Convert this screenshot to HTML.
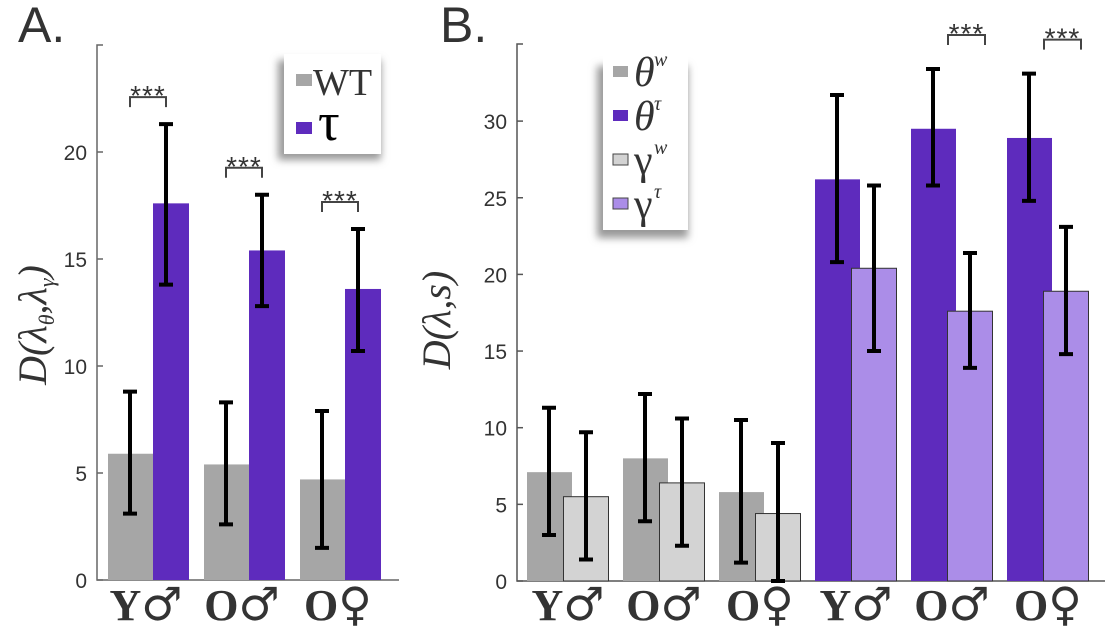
<!DOCTYPE html>
<html><head><meta charset="utf-8">
<style>
body{margin:0;background:#fff;width:1110px;height:634px;overflow:hidden}
svg{display:block}
.tick{font-family:"Liberation Sans",sans-serif;font-size:21px;fill:#333}
</style></head><body>
<svg id="chart" width="1110" height="634" xmlns="http://www.w3.org/2000/svg">
<defs>
<filter id="sh" x="-30%" y="-30%" width="160%" height="160%"><feGaussianBlur stdDeviation="4"/></filter>
</defs>
<text x="18" y="42" font-family="Liberation Sans,sans-serif" font-size="50" fill="#333">A.</text>
<text x="440" y="42" font-family="Liberation Sans,sans-serif" font-size="50" fill="#333">B.</text>
<g id="ga"></g>
<g id="gb"></g>
</svg>
<script>
// Panel A data
const aCategories=["Y♂","O♂","O♀"];
const aWT=[5.9,5.4,4.7];
const aWTlo=[3.1,2.6,1.5];
const aWThi=[8.8,8.3,7.9];
const aTau=[17.6,15.4,13.6];
const aTaulo=[13.8,12.8,10.7];
const aTauhi=[21.3,18.0,16.4];
const aTicks=[0,5,10,15,20];
// Panel B data
const bCategories=["Y♂","O♂","O♀","Y♂","O♂","O♀"];
const bTheta=[7.1,8.0,5.8,26.2,29.5,28.9];
const bThetaLo=[3.0,3.9,1.2,20.8,25.8,24.8];
const bThetaHi=[11.3,12.2,10.5,31.7,33.4,33.1];
const bGamma=[5.5,6.4,4.4,20.4,17.6,18.9];
const bGammaLo=[1.4,2.3,0,15.0,13.9,14.8];
const bGammaHi=[9.7,10.6,9.0,25.8,21.4,23.1];
const bTicks=[0,5,10,15,20,25,30];
const bSig=[false,false,false,false,true,true];

const NS="http://www.w3.org/2000/svg";
function mk(p,t,at){const e=document.createElementNS(NS,t);for(const k in at)e.setAttribute(k,at[k]);p.appendChild(e);return e;}

function errbar(g,x,ylo,yhi){
  const e=mk(g,'path',{d:`M${x},${yhi}V${ylo}M${x-7},${yhi}H${x+7}M${x-7},${ylo}H${x+7}`,stroke:'#000','stroke-width':4,fill:'none'});
  
  
}
function sig(g,x1,x2,y){
  const p=mk(g,'path',{d:`M${x1},${y+10}V${y}H${x2}V${y+10}`,stroke:'#444','stroke-width':2,fill:'none'});
  
  
  const t=mk(g,'text',{x:(x1+x2)/2,y:y+8,'text-anchor':'middle','font-family':'Liberation Sans,sans-serif','font-size':28,fill:'#333','letter-spacing':'1'});
  t.textContent='***';
  
  
}
function xlabel(g,cx,lab){
  const t=mk(g,'text',{x:cx,y:620,'text-anchor':'middle','font-size':44,fill:'#333'});
  const a=mk(t,'tspan',{'font-family':'Liberation Serif,serif','font-weight':'bold'});a.textContent=lab[0];
  const b=mk(t,'tspan',{'font-family':'DejaVu Sans,sans-serif','font-weight':'normal','font-size':46});b.textContent=lab[1];
  
  
}

// ---- Panel A
(function(){
  const g=document.getElementById('ga');
  const x0=97,y0=580,ppu=21.4;
  const Y=v=>y0-v*ppu;
  mk(g,'path',{d:`M${x0+6},${Y(25)}H${x0}V${y0}H399`,stroke:'#666','stroke-width':1.5,fill:'none'});
  aTicks.forEach(v=>{
    mk(g,'line',{x1:x0,x2:x0+6,y1:Y(v),y2:Y(v),stroke:'#666','stroke-width':1.5});
    const t=mk(g,'text',{x:x0-10,y:Y(v)+8,'text-anchor':'end',class:'tick'});t.textContent=v;
    
    
  });
  aCategories.forEach((c,i)=>{
    const gx=108+i*96;
    const r1=mk(g,'rect',{x:gx,y:Y(aWT[i]),width:45,height:aWT[i]*ppu,fill:'#a6a6a6'});
    
    
    const r2=mk(g,'rect',{x:gx+45,y:Y(aTau[i]),width:36,height:aTau[i]*ppu,fill:'#5e2bbd'});
    
    
    errbar(g,gx+22,Y(aWTlo[i]),Y(aWThi[i]));
    errbar(g,gx+58,Y(aTaulo[i]),Y(aTauhi[i]));
    sig(g,gx+22,gx+58,Y(aTauhi[i])-27);
    xlabel(g,gx+38,c);
  });
  const lg=mk(g,'g',{});
  
  
  mk(lg,'rect',{x:278,y:60,width:103,height:100,fill:'#999',filter:'url(#sh)'});
  mk(lg,'rect',{x:284,y:54,width:97,height:100,fill:'#fff'});
  mk(lg,'rect',{x:296,y:74,width:16,height:12,fill:'#a6a6a6'});
  mk(lg,'rect',{x:296,y:122,width:16,height:12,fill:'#5e2bbd'});
  const t1=mk(lg,'text',{x:313,y:95,'font-family':'Liberation Serif,serif','font-size':38,fill:'#333'});t1.textContent='WT';
  const t2=mk(lg,'text',{x:318,y:140,'font-family':'Liberation Serif,serif','font-size':54,fill:'#000'});t2.textContent='τ';
  const yt=mk(g,'text',{transform:'translate(46,325) rotate(-90)','text-anchor':'middle','font-family':'Liberation Serif,serif','font-style':'italic','font-size':40,fill:'#333'});
  yt.innerHTML='D(λ<tspan font-size="22" dy="8">θ</tspan><tspan dy="-8">,λ</tspan><tspan font-size="22" dy="8">γ</tspan><tspan dy="-8">)</tspan>';
  
  
})();

// ---- Panel B
(function(){
  const g=document.getElementById('gb');
  const x0=517,y0=581,ppu=15.33;
  const Y=v=>y0-v*ppu;
  mk(g,'path',{d:`M${x0+6},44H${x0}V${y0}H1105`,stroke:'#555','stroke-width':1.5,fill:'none'});
  bTicks.forEach(v=>{
    mk(g,'line',{x1:x0,x2:x0+6,y1:Y(v),y2:Y(v),stroke:'#555','stroke-width':1.5});
    const t=mk(g,'text',{x:x0-10,y:Y(v)+8,'text-anchor':'end',class:'tick'});t.textContent=v;
    
    
  });
  bCategories.forEach((c,i)=>{
    const gx=527+i*96;
    const dark=i<3?'#a6a6a6':'#5e2bbd', light=i<3?'#d3d3d3':'#ab8de8';
    const r1=mk(g,'rect',{x:gx,y:Y(bTheta[i]),width:45,height:bTheta[i]*ppu,fill:dark});
    
    
    const r2=mk(g,'rect',{x:gx+36.5,y:Y(bGamma[i]),width:45,height:bGamma[i]*ppu,fill:light,stroke:'#333','stroke-width':1});
    
    
    errbar(g,gx+22,Y(bThetaLo[i]),Y(bThetaHi[i]));
    errbar(g,gx+59,Y(bGammaLo[i]),Y(bGammaHi[i]));
    if(bSig[i]) sig(g,gx+37,gx+74,Y(bThetaHi[i])-34);
    xlabel(g,gx+41,c);
  });
  const lg=mk(g,'g',{});
  
  
  mk(lg,'rect',{x:597,y:66,width:91,height:172,fill:'#999',filter:'url(#sh)'});
  mk(lg,'rect',{x:603,y:56,width:85,height:174,fill:'#fff'});
  const items=[['#a6a6a6','θ','w',false],['#5e2bbd','θ','τ',false],['#d3d3d3','γ','w',true],['#ab8de8','γ','τ',true]];
  items.forEach((it,k)=>{
    const y=72+k*44;
    mk(lg,'rect',{x:613,y:y-6,width:15,height:11,fill:it[0],stroke:it[3]?'#444':'none','stroke-width':1});
    const t=mk(lg,'text',{x:634,y:y+14,'font-family':'Liberation Serif,serif','font-style':it[1]==='θ'?'italic':'normal','font-size':42,fill:'#333'});
    t.textContent=it[1];
    const s=mk(lg,'text',{x:654,y:y-6,'font-family':'Liberation Serif,serif','font-style':'italic','font-size':20,fill:'#333'});
    s.textContent=it[2];
  });
  const yt=mk(g,'text',{transform:'translate(450,320) rotate(-90)','text-anchor':'middle','font-family':'Liberation Serif,serif','font-style':'italic','font-size':40,fill:'#333'});
  yt.textContent='D(λ,s)';
  
  
})();
</script>
</body></html>
